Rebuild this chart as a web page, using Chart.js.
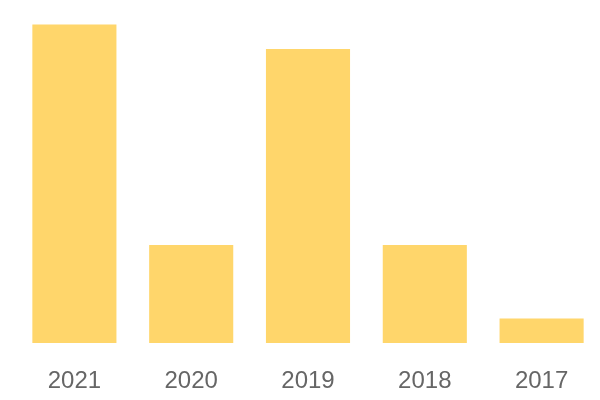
<!DOCTYPE html>
<html>
<head>
<meta charset="utf-8">
<script src="https://cdn.jsdelivr.net/npm/chart.js@4"></script>
<style>
html,body{margin:0;padding:0;background:#fff;}
#wrap{width:600px;height:400px;}
</style>
</head>
<body>
<div id="wrap"><canvas id="c" width="600" height="400"></canvas></div>
<script>
const categories = ["2021", "2020", "2019", "2018", "2017"];
const values = [13, 4, 12, 4, 1];

new Chart(document.getElementById('c'), {
  type: 'bar',
  data: {
    labels: categories,
    datasets: [{
      data: values,
      backgroundColor: 'rgb(255,214,107)',
      borderWidth: 0,
      categoryPercentage: 0.8,
      barPercentage: 0.9
    }]
  },
  options: {
    responsive: false,
    animation: false,
    layout: { padding: { left: 16, right: 0, top: 0, bottom: 0 } },
    plugins: { legend: { display: false }, tooltip: { enabled: false } },
    scales: {
      x: {
        grid: { display: false },
        border: { display: false },
        ticks: { color: '#666', font: { family: 'Liberation Sans', size: 24 }, padding: 15.5 },
        afterFit: (s) => { s.height = 57; }
      },
      y: {
        display: false,
        min: 0,
        max: 14
      }
    }
  }
});
</script>
</body>
</html>
